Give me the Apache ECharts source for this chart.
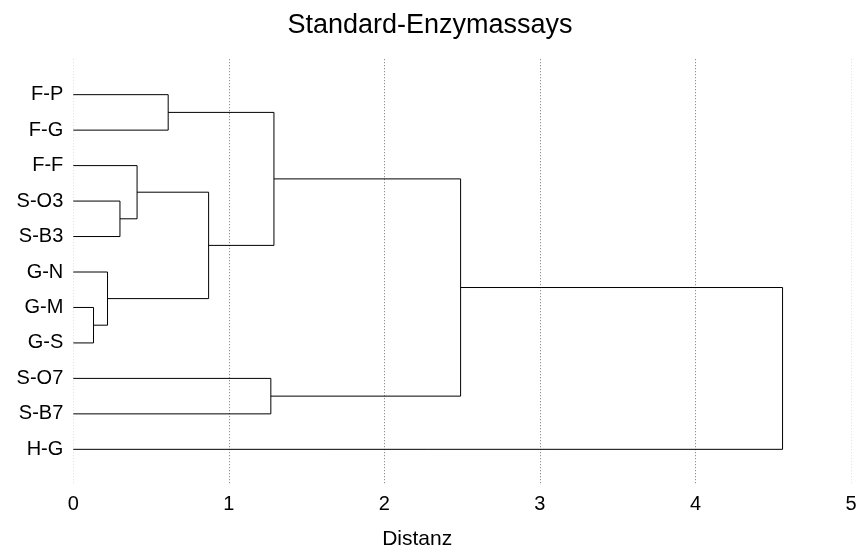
<!DOCTYPE html>
<html>
<head>
<meta charset="utf-8">
<script src="https://cdn.jsdelivr.net/npm/echarts@6/dist/echarts.min.js"></script>
<style>html,body{margin:0;padding:0;background:#fff}#c{width:860px;height:556px}</style>
</head>
<body>
<div id="c"></div>
<script>
// Leaves in display order (top to bottom)
var leaves = ['F-P','F-G','F-F','S-O3','S-B3','G-N','G-M','G-S','S-O7','S-B7','H-G'];
// Merge steps (R-style: negative = leaf number 1-based, positive = earlier merge step)
var mergeLeft  = [-7, -6, -4, -3, -1, 4, -9, 5, 8, 9];
var mergeRight = [-8,  1, -5,  3, -2, 2, -10, 6, 7, -11];
var mergeHeight = [0.13, 0.22, 0.30, 0.41, 0.61, 0.87, 1.27, 1.29, 2.49, 4.56];
var xTicks = [0, 1, 2, 3, 4, 5];

// Build the dendrogram segments from the merge table
var nodeY = [], nodeH = [];
function info(ref) {
  if (ref < 0) return { y: -ref - 1, h: 0 };
  return { y: nodeY[ref - 1], h: nodeH[ref - 1] };
}
var segs = [];
for (var k = 0; k < mergeHeight.length; k++) {
  var a = info(mergeLeft[k]), b = info(mergeRight[k]);
  var h = mergeHeight[k];
  nodeY.push((a.y + b.y) / 2);
  nodeH.push(h);
  segs.push([a.h, a.y, h, b.y, b.h]);
}

var font = 'Liberation Sans, Arial, Helvetica, sans-serif';
var chart = echarts.init(document.getElementById('c'), null, { renderer: 'canvas' });
chart.setOption({
  animation: false,
  backgroundColor: '#fff',
  title: {
    text: 'Standard-Enzymassays',
    left: 'center',
    top: 7,
    textStyle: { fontFamily: font, fontSize: 27, fontWeight: 'normal', color: '#000' }
  },
  grid: { left: 73.3, right: 9, top: 59.2, bottom: 71.2, containLabel: false },
  xAxis: {
    type: 'value',
    min: xTicks[0],
    max: xTicks[xTicks.length - 1],
    interval: 1,
    name: 'Distanz',
    nameLocation: 'middle',
    nameGap: 44,
    nameTextStyle: { fontFamily: font, fontSize: 21, color: '#000', padding: [0, 90, 0, 0] },
    axisLine: { show: false },
    axisTick: { show: false },
    axisLabel: { fontFamily: font, fontSize: 20, color: '#000', margin: 10 },
    splitLine: {
      show: true,
      lineStyle: { type: [1, 2], width: 1, color: ['#dddddd', '#777777', '#777777', '#777777', '#777777', '#dddddd'] }
    }
  },
  yAxis: {
    type: 'value',
    inverse: true,
    min: -1,
    max: leaves.length,
    interval: 1,
    axisLine: { show: false },
    axisTick: { show: false },
    splitLine: { show: false },
    axisLabel: {
      fontFamily: font, fontSize: 20, color: '#000', margin: 10,
      formatter: function (v) { return (v >= 0 && v < leaves.length) ? leaves[v] : ''; }
    }
  },
  series: [{
    type: 'custom',
    data: segs,
    encode: { x: [0, 2, 4], y: [1, 3] },
    renderItem: function (params, api) {
      var p1 = api.coord([api.value(0), api.value(1)]);
      var p2 = api.coord([api.value(2), api.value(1)]);
      var p3 = api.coord([api.value(2), api.value(3)]);
      var p4 = api.coord([api.value(4), api.value(3)]);
      return {
        type: 'polyline',
        shape: { points: [p1, p2, p3, p4] },
        style: { stroke: '#000', lineWidth: 1, fill: null }
      };
    }
  }]
});
</script>
</body>
</html>
